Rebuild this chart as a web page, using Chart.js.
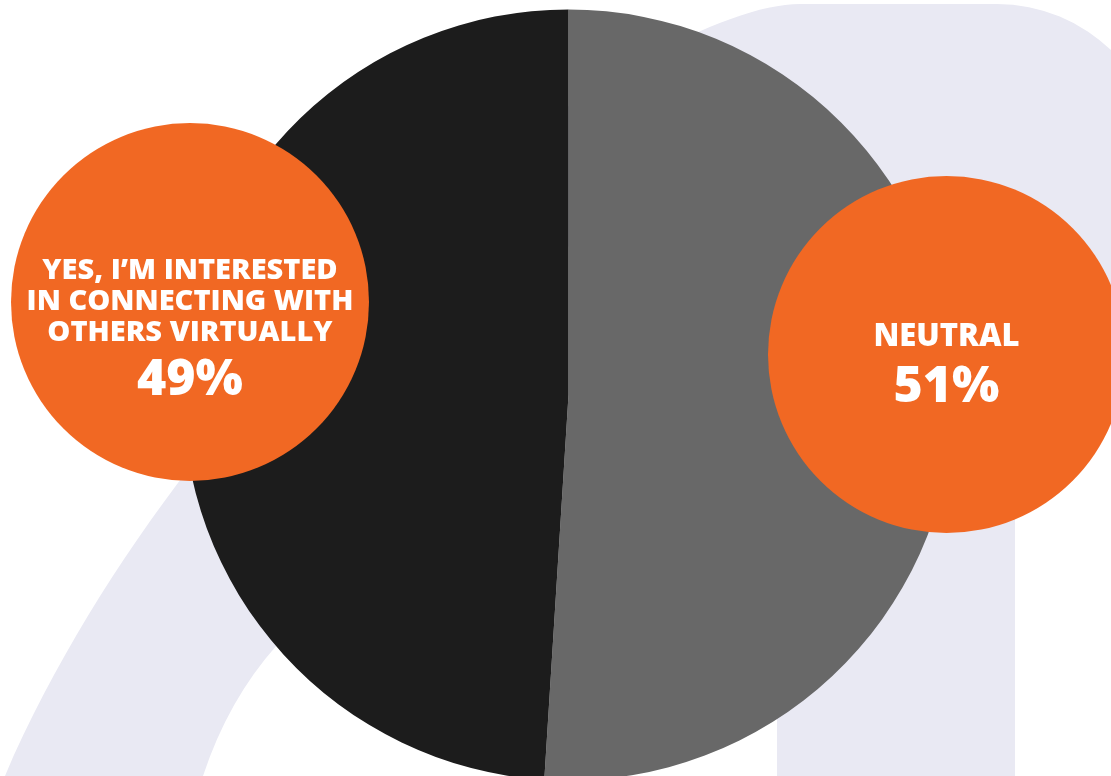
<!DOCTYPE html>
<html>
<head>
<meta charset="utf-8">
<script src="https://cdn.jsdelivr.net/npm/chart.js@4"></script>
<style>
    html, body { margin: 0; padding: 0; background: #fff; overflow: hidden; }
    #wrap { position: relative; width: 1111px; height: 776px; overflow: hidden; }
    #pie { position: absolute; left: 0; top: 0; }
    .callout {
        position: absolute; border-radius: 50%; background: #f16823; color: #fff;
        font-family: 'Open Sans', sans-serif; font-weight: 800; text-align: center;
    }
    .callout .lines { position: absolute; left: 0; right: 0; font-size: 29px; line-height: 31px; white-space: nowrap; }
    .callout .pct { position: absolute; left: 0; right: 0; font-size: 50px; line-height: 50px; }
    /* neutral */
    #callout-0 { left: 768px; top: 176px; width: 357px; height: 357px; }
    #callout-0 .lines { top: 143px; font-size: 31px; }
    #callout-0 .pct { top: 182px; }
    /* yes */
    #callout-1 { left: 11px; top: 123px; width: 358px; height: 358px; }
    #callout-1 .lines { top: 129px; }
    #callout-1 .pct { top: 228px; }
</style>
</head>
<body>
<div id="wrap">
    <canvas id="pie" width="1111" height="800"></canvas>
    <div class="callout" id="callout-0"></div>
    <div class="callout" id="callout-1"></div>
</div>
<script>
// --- data ---
const labels = ['Neutral', 'Yes, I’m interested in connecting with others virtually'];
const values = [51, 49];
const sliceColors = ['#686868', '#1c1c1c'];
const calloutLines = [
    ['NEUTRAL'],
    ['YES, I’M INTERESTED', 'IN CONNECTING WITH', 'OTHERS VIRTUALLY']
];

// light lavender "m" shape behind the pie
const backdrop = {
    id: 'backdrop',
    beforeDraw(chart) {
        const c = chart.ctx;
        c.save();
        c.fillStyle = '#e9e9f3';
        c.beginPath();
        c.moveTo(-8, 800);
        c.lineTo(5, 776);
        c.bezierCurveTo(200, 330, 650, 4, 800, 4);
        c.lineTo(997, 4);
        c.arcTo(1161, 4, 1161, 168, 164);
        c.lineTo(1161, 330);
        c.lineTo(1100, 380);
        c.lineTo(1015, 510);
        c.lineTo(1015, 800);
        c.lineTo(777, 800);
        c.lineTo(777, 500);
        c.bezierCurveTo(777, 150, 420, 120, 277, 645);
        c.quadraticCurveTo(228, 700, 203, 776);
        c.lineTo(196, 800);
        c.closePath();
        c.fill();
        c.restore();
    }
};

const pieChart = new Chart(document.getElementById('pie'), {
    type: 'pie',
    data: {
        labels: labels,
        datasets: [{ data: values, backgroundColor: sliceColors, borderWidth: 0, hoverOffset: 0 }]
    },
    options: {
        responsive: false,
        animation: false,
        rotation: 0,
        layout: { padding: { top: 9, bottom: 19, left: 183, right: 157 } },
        plugins: { legend: { display: false }, tooltip: { enabled: false } }
    },
    plugins: [backdrop]
});

// orange callouts with label + share
calloutLines.forEach((lines, i) => {
    const el = document.getElementById('callout-' + i);
    const txt = document.createElement('div');
    txt.className = 'lines';
    txt.innerHTML = lines.map(l => `<div>${l}</div>`).join('');
    const pct = document.createElement('div');
    pct.className = 'pct';
    pct.textContent = values[i] + '%';
    el.appendChild(txt);
    el.appendChild(pct);
});
</script>
</body>
</html>
